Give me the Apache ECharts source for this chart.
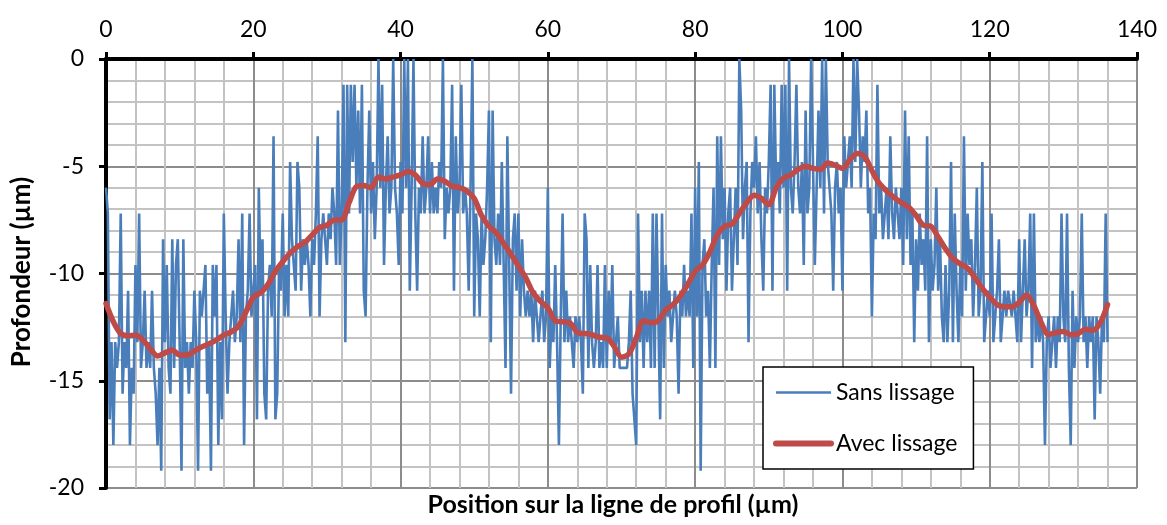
<!DOCTYPE html>
<html>
<head>
<meta charset="utf-8">
<script src="https://cdn.jsdelivr.net/npm/echarts@6/dist/echarts.min.js"></script>
<style>
    html, body { margin: 0; padding: 0; background: #fff; }
    #chart { width: 1167px; height: 525px; }
</style>
</head>
<body>
<div id="chart"></div>
<script>
    // raw profile, one value every blueStep µm starting at 0
    var blueStep = 0.25;
    var blueValues = [
        -6, -7.2, -16.8, -13.2, -18, -13.2, -14.4, -13.2,
        -7.2, -15.6, -13.2, -14.4, -10.8, -18, -14.4, -15.6,
        -9.6, -13.2, -7.2, -14.4, -13.2, -10.8, -14.4, -13.2,
        -14.4, -10.8, -14.4, -15.6, -18, -14.4, -19.2, -8.4,
        -13.2, -9.6, -14.4, -15.6, -8.4, -14.4, -9.6, -8.4,
        -13.2, -19.2, -8.4, -14.4, -13.2, -15.6, -13.2, -14.4,
        -10.8, -13.2, -19.2, -10.8, -12, -10.8, -9.6, -15.6,
        -13.2, -19.2, -9.6, -12, -9.6, -18, -13.2, -16.8,
        -7.2, -12, -15.6, -13.2, -12, -10.8, -13.2, -12,
        -8.4, -13.2, -7.2, -18, -12, -10.8, -7.2, -12,
        -10.8, -9.6, -16.8, -6, -10.8, -8.4, -15.6, -16.8,
        -10.8, -9.6, -12, -3.6, -16.8, -15.6, -9.6, -10.8,
        -7.2, -12, -9.6, -12, -4.8, -8.4, -9.6, -10.8,
        -4.8, -6, -10.8, -8.4, -9.6, -8.4, -9.6, -12,
        -8.4, -9.6, -7.2, -3.6, -12, -8.4, -7.2, -8.4,
        -9.6, -7.2, -8.4, -6, -7.2, -9.6, -2.4, -9.6,
        -7.2, -1.2, -13.2, -1.2, -7.2, -1.2, -4.8, -1.2,
        -6, -2.4, -7.2, -1.2, -10.8, -12, -6, -2.4,
        -7.2, -4.8, -8.4, -6, 0, -6, -1.2, -9.6,
        -6, -3.6, -7.2, -6, 0, -6, -7.2, -9.6,
        -4.8, -7.2, 0, -6, 0, -10.8, -6, 0,
        -7.2, -10.8, -6, -7.2, -3.6, -7.2, -6, -3.6,
        -7.2, -4.8, -7.2, -6, -7.2, -4.8, -6, 0,
        -8.4, -6, -7.2, -6, -1.2, -10.8, -3.6, -7.2,
        -6, -1.2, -7.2, -6, -7.2, -10.8, -6, 0,
        -12, -7.2, -8.4, -12, -7.2, -9.6, -8.4, -6,
        -2.4, -13.2, -2.4, -8.4, -9.6, -7.2, -9.6, -4.8,
        -9.6, -14.4, -3.6, -9.6, -15.6, -8.4, -7.2, -10.8,
        -7.2, -12, -8.4, -10.8, -12, -10.8, -12, -10.8,
        -13.2, -10.8, -12, -13.2, -12, -10.8, -13.2, -12,
        -6, -14.4, -12, -13.2, -9.6, -13.2, -18, -12,
        -7.2, -13.2, -10.8, -13.2, -12, -13.2, -14.4, -12,
        -13.2, -12, -13.2, -15.6, -7.2, -8.4, -14.4, -9.6,
        -13.2, -14.4, -13.2, -9.6, -14.4, -13.2, -14.4, -9.6,
        -14.4, -10.8, -13.2, -9.6, -14.4, -13.2, -12, -14.4,
        -14.4, -14.4, -14.4, -14.4, -13.2, -10.8, -15.6, -15.6,
        -18, -7.2, -13.2, -10.8, -14.4, -10.8, -13.2, -10.8,
        -14.4, -7.2, -14.4, -7.2, -12, -16.8, -7.2, -14.4,
        -9.6, -12, -10.8, -13.2, -12, -10.8, -12, -15.6,
        -10.8, -12, -9.6, -12, -10.8, -12, -7.2, -14.4,
        -6, -12, -4.8, -19.2, -9.6, -8.4, -12, -10.8,
        -14.4, -9.6, -6, -14.4, -3.6, -9.6, -3.6, -8.4,
        -6, -10.8, -7.2, -6, -10.8, -8.4, -6, -9.6,
        0, -2.4, -8.4, -6, -4.8, -13.2, -7.2, -4.8,
        -6, -3.6, -7.2, -4.8, -8.4, -10.8, -6, -7.2,
        -4.8, -1.2, -10.8, -1.2, -6, -4.8, -7.2, -1.2,
        -6, -1.2, -10.8, 0, -6, -7.2, -4.8, -1.2,
        -6, -7.2, -4.8, -9.6, -2.4, -7.2, -6, 0,
        0, -9.6, -6, -2.4, -6, 0, -7.2, 0,
        -4.8, -6, -7.2, -10.8, -6, -4.8, -7.2, -6,
        -10.8, -3.6, -6, -4.8, -3.6, -6, 0, -4.8,
        0, -2.4, -6, -3.6, -4.8, -2.4, -7.2, -6,
        -12, -7.2, -8.4, -1.2, -7.2, -6, -8.4, -7.2,
        -6, -8.4, -3.6, -7.2, -8.4, -6, -7.2, -8.4,
        -6, -9.6, -2.4, -8.4, -3.6, -9.6, -7.2, -13.2,
        -8.4, -10.8, -7.2, -9.6, -8.4, -10.8, -3.6, -13.2,
        -8.4, -10.8, -9.6, -6, -10.8, -8.4, -12, -13.2,
        -9.6, -13.2, -10.8, -4.8, -13.2, -7.2, -10.8, -13.2,
        -9.6, -12, -3.6, -10.8, -7.2, -9.6, -8.4, -12,
        -9.6, -6, -12, -10.8, -4.8, -13.2, -12, -10.8,
        -12, -7.2, -13.2, -12, -10.8, -8.4, -13.2, -12,
        -10.8, -12, -10.8, -10.8, -12, -10.8, -12, -13.2,
        -8.4, -13.2, -10.8, -8.4, -12, -10.8, -7.2, -14.4,
        -7.2, -13.2, -12, -13.2, -12, -13.2, -18, -13.2,
        -12, -14.4, -13.2, -12, -14.4, -12, -13.2, -7.2,
        -12, -13.2, -7.2, -14.4, -18, -10.8, -14.4, -12,
        -13.2, -12, -7.2, -13.2, -12, -14.4, -12, -13.2,
        -12, -16.8, -12, -13.2, -15.6, -12, -13.2, -7.2,
        -13.2
    ];

    // smoothed profile
    var redX = [0, 1, 2, 3, 4, 5, 6, 7, 8, 9, 10, 11, 12, 13, 14, 15, 16, 17, 18, 19,
        20, 21, 22, 23, 24, 25, 26, 27, 28, 29, 30, 31, 32, 33, 34, 35, 36, 37, 38, 39,
        40, 41, 42, 43, 44, 45, 46, 47, 48, 49, 50, 51, 52, 53, 54, 55, 56, 57, 58, 59,
        60, 61, 62, 63, 64, 65, 66, 67, 68, 69, 70, 71, 72, 73, 74, 75, 76, 77, 78, 79,
        80, 81, 82, 83, 84, 85, 86, 87, 88, 89, 90, 91, 92, 93, 94, 95, 96, 97, 98, 99,
        100, 101, 102, 103, 104, 105, 106, 107, 108, 109, 110, 111, 112, 113, 114, 115, 116, 117, 118, 119,
        120, 121, 122, 123, 124, 125, 126, 127, 128, 129, 130, 131, 132, 133, 134, 135, 136];
    var redY = [-11.4, -12.25, -12.8, -12.9, -12.87, -13.1, -13.5, -13.85, -13.7, -13.57,
        -13.8, -13.8, -13.62, -13.42, -13.28, -13.1, -12.87, -12.72, -12.45, -11.8,
        -11.1, -10.9, -10.5, -9.9, -9.45, -9.05, -8.75, -8.55, -8.2, -7.85,
        -7.75, -7.5, -7.5, -6.7, -5.95, -5.9, -6.0, -5.5, -5.6, -5.5,
        -5.4, -5.25, -5.4, -5.8, -5.85, -5.6, -5.7, -5.93, -6.0, -6.15,
        -6.5, -7.3, -7.8, -8.1, -8.6, -9.1, -9.65, -10.2, -10.9, -11.3,
        -11.6, -12.2, -12.25, -12.3, -12.75, -12.8, -12.85, -12.97, -13.0, -13.4,
        -13.9, -13.75, -13.0, -12.2, -12.3, -12.2, -11.7, -11.45, -11.05, -10.5,
        -9.9, -9.6, -9.0, -8.2, -7.8, -7.7, -7.2, -6.7, -6.35, -6.5,
        -6.8, -6.0, -5.55, -5.4, -5.15, -5.0, -5.1, -5.15, -4.85, -4.95,
        -5.1, -4.7, -4.4, -4.55, -5.2, -5.8, -6.15, -6.45, -6.7, -6.9,
        -7.3, -7.75, -7.8, -8.3, -8.85, -9.3, -9.55, -9.75, -10.2, -10.7,
        -11.1, -11.45, -11.55, -11.55, -11.35, -11.0, -11.5, -12.3, -12.85, -12.75,
        -12.7, -12.85, -12.8, -12.6, -12.65, -12.3, -11.45];

    var xTicks = [0, 20, 40, 60, 80, 100, 120, 140];
    var yTicks = [-20, -15, -10, -5, 0];

    var FONT = 'Lato';
    var BLUE = '#4a7ebb', RED = '#be4b48';
    var blueData = blueValues.map(function (v, i) { return [i * blueStep, v]; });
    var redData = redX.map(function (x, i) { return [x, redY[i]]; });

    var chart = echarts.init(document.getElementById('chart'), null, { renderer: 'canvas' });

    var option = {
        animation: false,
        backgroundColor: '#ffffff',
        grid: { left: 106, right: 30, top: 59, bottom: 37, containLabel: false },
        legend: {
            orient: 'vertical',
            left: 763,
            top: 367,
            padding: [14, 16, 14, 10],
            itemGap: 28,
            itemWidth: 55,
            itemHeight: 20,
            backgroundColor: '#ffffff',
            borderColor: '#000000',
            borderWidth: 1.5,
            borderRadius: 0,
            textStyle: { fontFamily: FONT, fontSize: 23, color: '#000' },
            data: [
                { name: 'Sans lissage', itemStyle: { opacity: 0 }, lineStyle: { color: BLUE, width: 2.5 } },
                { name: 'Avec lissage', itemStyle: { opacity: 0 }, lineStyle: { color: RED, width: 6, cap: 'round' } }
            ]
        },
        xAxis: {
            type: 'value',
            position: 'top',
            min: xTicks[0],
            max: xTicks[xTicks.length - 1],
            interval: 20,
            axisLine: { show: true, onZero: false, lineStyle: { color: '#000', width: 4 } },
            axisTick: { show: true, inside: false, length: 7, lineStyle: { color: '#000', width: 3 } },
            axisLabel: { margin: 18, fontFamily: FONT, fontSize: 23, color: '#000' },
            splitLine: { show: true, lineStyle: { color: '#8c8c8c', width: 2 } },
            minorTick: { show: false, splitNumber: 5 },
            minorSplitLine: { show: true, lineStyle: { color: '#c3c3c3', width: 2 } }
        },
        yAxis: {
            type: 'value',
            min: yTicks[0],
            max: yTicks[yTicks.length - 1],
            interval: 5,
            axisLine: { show: true, onZero: false, lineStyle: { color: '#000', width: 4 } },
            axisTick: { show: true, inside: false, length: 7, lineStyle: { color: '#000', width: 3 } },
            axisLabel: { margin: 22, fontFamily: FONT, fontSize: 23, color: '#000' },
            splitLine: { show: true, lineStyle: { color: '#8c8c8c', width: 2 } },
            minorTick: { show: false, splitNumber: 5 },
            minorSplitLine: { show: true, lineStyle: { color: '#c3c3c3', width: 2 } }
        },
        graphic: [
            {
                type: 'text',
                x: 613, y: 505,
                style: {
                    text: 'Position sur la ligne de profil (µm)',
                    fontFamily: FONT, fontSize: 25, fontWeight: 'bold', fill: '#000',
                    textAlign: 'center', textVerticalAlign: 'middle'
                }
            },
            {
                type: 'text',
                x: 22, y: 272,
                rotation: Math.PI / 2,
                style: {
                    text: 'Profondeur (µm)',
                    fontFamily: FONT, fontSize: 26, fontWeight: 'bold', fill: '#000',
                    textAlign: 'center', textVerticalAlign: 'middle'
                }
            }
        ],
        series: [
            {
                name: 'Sans lissage',
                type: 'line',
                data: blueData,
                showSymbol: false,
                symbol: 'none',
                lineStyle: { color: BLUE, width: 2.6 },
                itemStyle: { color: BLUE },
                z: 2
            },
            {
                name: 'Avec lissage',
                type: 'line',
                data: redData,
                showSymbol: false,
                symbol: 'none',
                smooth: 0.3,
                lineStyle: { color: RED, width: 5.5, cap: 'round', join: 'round' },
                itemStyle: { color: RED },
                z: 3
            }
        ]
    };

    chart.setOption(option);
</script>
</body>
</html>
